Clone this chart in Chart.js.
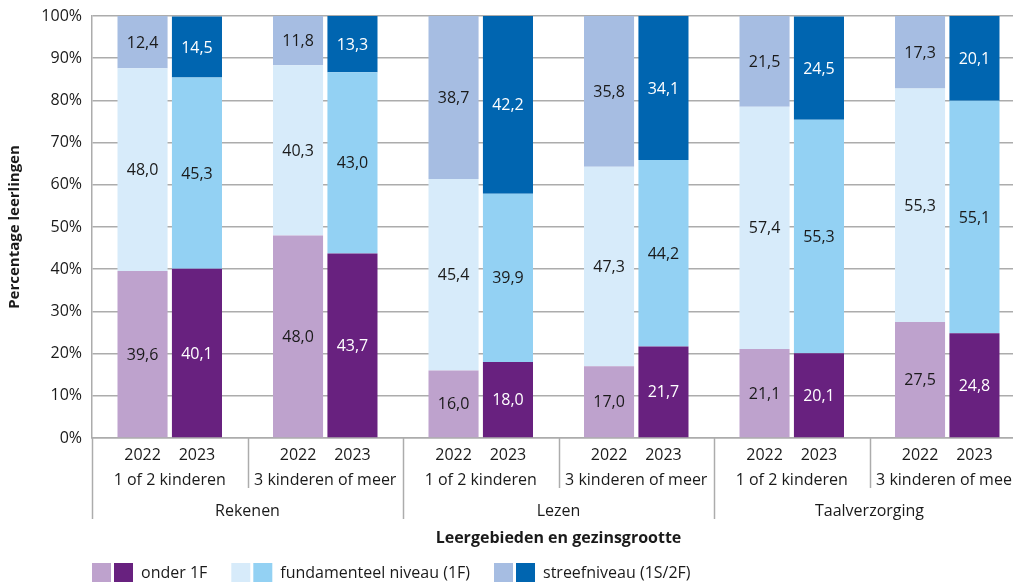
<!DOCTYPE html>
<html>
<head>
<meta charset="utf-8">
<script src="https://cdn.jsdelivr.net/npm/chart.js@4/dist/chart.umd.min.js"></script>
<style>
  body { margin: 0; overflow: hidden; background: #fff; }
</style>
</head>
<body>
<canvas id="grafiek" width="1030" height="582"></canvas>
<script>
// categorieen
const leergebieden = ["Rekenen", "Lezen", "Taalverzorging"];
const gezinsgrootte = ["1 of 2 kinderen", "3 kinderen of meer", "1 of 2 kinderen", "3 kinderen of meer", "1 of 2 kinderen", "3 kinderen of meer"];
const jaren = ["2022", "2023"];
const niveaus = ["onder 1F", "fundamenteel niveau (1F)", "streefniveau (1S/2F)"];
const yTicks = [0, 10, 20, 30, 40, 50, 60, 70, 80, 90, 100];

// waarden per niveau en jaar (volgorde = gezinsgrootte)
const onder1F_2022 = [39.6, 48.0, 16.0, 17.0, 21.1, 27.5];
const onder1F_2023 = [40.1, 43.7, 18.0, 21.7, 20.1, 24.8];
const fundamenteel_2022 = [48.0, 40.3, 45.4, 47.3, 57.4, 55.3];
const fundamenteel_2023 = [45.3, 43.0, 39.9, 44.2, 55.3, 55.1];
const streef_2022 = [12.4, 11.8, 38.7, 35.8, 21.5, 17.3];
const streef_2023 = [14.5, 13.3, 42.2, 34.1, 24.5, 20.1];

const FONT = "'Open Sans', 'Noto Sans', sans-serif";
const GRIJS = "#acacac";
const TEKST = "#1a1a1a";

const datasets = [
  { label: niveaus[0], data: onder1F_2022, stack: jaren[0], backgroundColor: "#bea2cd", labelKleur: TEKST },
  { label: niveaus[0], data: onder1F_2023, stack: jaren[1], backgroundColor: "#68217f", labelKleur: "#ffffff" },
  { label: niveaus[1], data: fundamenteel_2022, stack: jaren[0], backgroundColor: "#d7ebfa", labelKleur: TEKST },
  { label: niveaus[1], data: fundamenteel_2023, stack: jaren[1], backgroundColor: "#93d1f3", labelKleur: TEKST },
  { label: niveaus[2], data: streef_2022, stack: jaren[0], backgroundColor: "#a6bde2", labelKleur: TEKST },
  { label: niveaus[2], data: streef_2023, stack: jaren[1], backgroundColor: "#0065b0", labelKleur: "#ffffff" },
];

const tekstPlugin = {
  id: "tekstPlugin",
  afterDatasetsDraw(chart) {
    const ctx = chart.ctx;
    ctx.save();
    ctx.font = "16px " + FONT;
    ctx.textAlign = "center";
    ctx.textBaseline = "middle";
    chart.data.datasets.forEach((ds, i) => {
      chart.getDatasetMeta(i).data.forEach((bar, j) => {
        ctx.fillStyle = ds.labelKleur;
        const tekst = ds.data[j].toFixed(1).replace(".", ",");
        ctx.fillText(tekst, bar.x, (bar.y + bar.base) / 2 + 1);
      });
    });
    ctx.restore();
  },
  afterDraw(chart) {
    const ctx = chart.ctx;
    const x = chart.scales.x;
    const onder = chart.chartArea.bottom;
    const breedte = x.getPixelForValue(1) - x.getPixelForValue(0);
    ctx.save();
    ctx.fillStyle = TEKST;
    ctx.textAlign = "center";
    ctx.textBaseline = "middle";

    // jaartallen onder de staven
    ctx.font = "16px " + FONT;
    [0, 1].forEach((d) => {
      chart.getDatasetMeta(d).data.forEach((bar) => {
        ctx.fillText(jaren[d], bar.x, onder + 17);
      });
    });
    // gezinsgrootte
    gezinsgrootte.forEach((g, i) => {
      ctx.fillText(g, x.getPixelForValue(i), onder + 42);
    });
    // leergebieden
    leergebieden.forEach((l, i) => {
      const midden = (x.getPixelForValue(i * 2) + x.getPixelForValue(i * 2 + 1)) / 2;
      ctx.fillText(l, midden, onder + 73);
    });

    // scheidingslijnen
    ctx.strokeStyle = GRIJS;
    ctx.lineWidth = 1.5;
    for (let i = 0; i <= gezinsgrootte.length; i++) {
      const px = Math.round(x.getPixelForValue(0) - breedte / 2 + i * breedte) + 0.5;
      const lang = i % 2 === 0;
      ctx.beginPath();
      ctx.moveTo(px, onder);
      ctx.lineTo(px, onder + (lang ? 81 : 50));
      ctx.stroke();
    }

    // as-titel
    ctx.font = "bold 16px " + FONT;
    ctx.fillText("Leergebieden en gezinsgrootte", (chart.chartArea.left + chart.chartArea.right) / 2, onder + 100);

    // legenda met paren
    ctx.font = "16px " + FONT;
    ctx.textAlign = "left";
    let lx = 92;
    const ly = 563;
    niveaus.forEach((n, i) => {
      ctx.fillStyle = datasets[i * 2].backgroundColor;
      ctx.fillRect(lx, ly, 19, 19);
      ctx.fillStyle = datasets[i * 2 + 1].backgroundColor;
      ctx.fillRect(lx + 22, ly, 19, 19);
      ctx.fillStyle = TEKST;
      ctx.fillText(n, lx + 49, ly + 10);
      lx += 49 + ctx.measureText(n).width + 24;
    });
    ctx.restore();
  },
};

new Chart(document.getElementById("grafiek"), {
  type: "bar",
  data: {
    labels: gezinsgrootte,
    datasets: datasets,
  },
  options: {
    responsive: false,
    animation: false,
    categoryPercentage: 0.7,
    barPercentage: 0.92,
    layout: { padding: { top: 0, right: 5, left: 0, bottom: 0 } },
    plugins: {
      legend: { display: false },
      tooltip: { enabled: false },
    },
    scales: {
      x: {
        stacked: true,
        grid: { display: false },
        ticks: { display: false },
        border: { color: GRIJS, width: 1.5 },
        afterFit(scale) { scale.height = 144; },
      },
      y: {
        stacked: true,
        min: 0,
        max: 100,
        afterBuildTicks(scale) { scale.ticks = yTicks.map((v) => ({ value: v })); },
        afterFit(scale) { scale.width = 92; scale.paddingTop = 16; },
        ticks: {
          padding: 10,
          color: TEKST,
          font: { family: FONT, size: 16 },
          callback: (v) => v + "%",
        },
        grid: { color: GRIJS, lineWidth: 1.5, drawTicks: false },
        border: { color: GRIJS, width: 1.5 },
        title: {
          display: true,
          text: "Percentage leerlingen",
          color: TEKST,
          font: { family: FONT, size: 15, weight: "bold" },
          padding: { top: 6, bottom: 0 },
        },
      },
    },
  },
  plugins: [tekstPlugin],
});
</script>
</body>
</html>
